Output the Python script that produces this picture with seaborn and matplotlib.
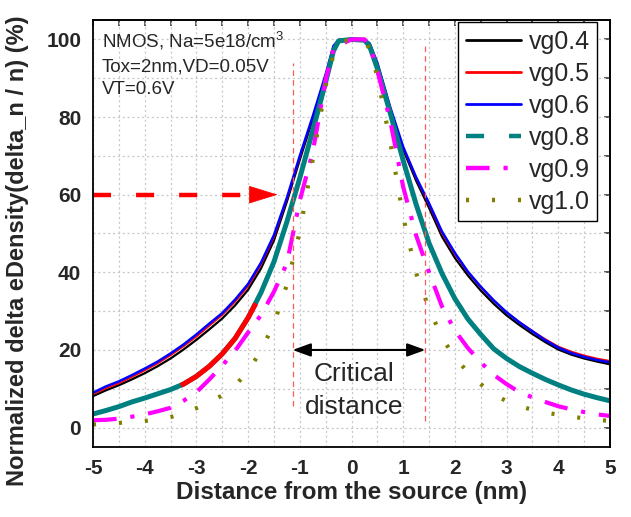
import numpy as np
import pandas as pd
import matplotlib
matplotlib.use("Agg")
import matplotlib.pyplot as plt
import seaborn as sns
from matplotlib.lines import Line2D
from matplotlib.ticker import MultipleLocator

# ---------------- data ----------------
x_pos = [-5, -4.75, -4.5, -4.25, -4, -3.75, -3.5, -3.25, -3, -2.75, -2.5, -2.25, -2, -1.75,
         -1.5, -1.25, -1, -0.75, -0.5, -0.35, -0.25, 0, 0.25, 0.35, 0.5, 0.75, 1, 1.25, 1.5,
         1.75, 2, 2.25, 2.5, 2.75, 3, 3.25, 3.5, 3.75, 4, 4.25, 4.5, 4.75, 5]

vg04 = [8.1, 9.6, 10.9, 12.4, 14.0, 15.8, 17.8, 20.1, 22.6, 25.3, 28.1, 31.5, 35.5, 41.0,
        48.2, 58.2, 69.0, 79.4, 90.3, 97.6, 99.6, 100, 99.8, 98.6, 93.5, 82.0, 71.6, 63.6, 56.6,
        49.2, 43.7, 39.2, 35.3, 31.9, 28.9, 26.4, 24.1, 22.0, 20.1, 18.8, 17.8, 17.0, 16.3]
vg05 = [8.6, 10.1, 11.4, 13.0, 14.7, 16.5, 18.6, 20.9, 23.4, 26.2, 29.0, 32.4, 36.4, 41.9,
        49.0, 58.8, 69.6, 79.9, 90.7, 98.0, 99.8, 100, 99.9, 98.8, 93.8, 82.3, 72.0, 64.2, 57.4,
        50.0, 44.6, 40.0, 36.1, 32.7, 29.7, 27.2, 24.9, 22.8, 20.9, 19.6, 18.6, 17.8, 17.2]
vg06 = [9.0, 10.6, 11.9, 13.5, 15.2, 17.0, 19.1, 21.4, 24.0, 26.8, 29.5, 33.0, 37.0, 42.5,
        49.6, 59.2, 70.0, 80.2, 91.0, 98.3, 99.9, 100, 100, 99.0, 94.0, 82.5, 72.3, 64.5, 57.8,
        50.5, 45.0, 40.2, 36.3, 32.8, 29.7, 27.1, 24.8, 22.5, 20.6, 19.2, 18.2, 17.4, 16.8]
vg08 = [3.5, 4.4, 5.4, 6.6, 7.6, 8.7, 9.8, 11.2, 13.2, 15.8, 19.0, 23.0, 28.3, 34.8,
        42.7, 53.0, 64.3, 76.5, 89.0, 97.0, 99.6, 100, 99.8, 98.3, 92.5, 81.0, 68.8, 57.5, 47.5,
        39.7, 33.2, 28.0, 24.0, 20.3, 17.8, 15.7, 14.0, 12.4, 11.0, 9.7, 8.6, 7.7, 6.9]
vg09 = [1.9, 2.0, 2.3, 2.8, 3.4, 4.2, 5.1, 6.9, 9.1, 12.4, 16.0, 19.8, 24.5, 29.0,
        35.0, 42.3, 58.5, 71.0, 89.5, 97.4, 98.5, 100, 100, 98.5, 92.0, 79.0, 62.0, 49.5, 40.0,
        31.2, 25.0, 20.5, 16.8, 13.6, 11.2, 9.1, 7.8, 6.6, 5.5, 4.7, 4.0, 3.4, 3.0]
vg10 = [0.8, 1.0, 1.2, 1.4, 1.7, 2.1, 2.7, 3.7, 5.0, 6.5, 8.3, 10.8, 14.6, 19.8,
        26.8, 36.8, 50.5, 69.0, 88.0, 96.0, 99.3, 100, 99.8, 97.5, 90.5, 73.5, 54.3, 39.8, 30.6,
        23.2, 18.0, 14.3, 11.2, 8.6, 6.8, 5.5, 4.6, 3.9, 3.3, 2.8, 2.4, 2.0, 1.7]

# short red stretch visible on top of the vg0.8 curve
seg_x = [-3.3, -3.25, -3.0, -2.75, -2.5, -2.25, -2.0, -1.85]
seg_y = [10.9, 11.2, 13.2, 15.8, 19.0, 23.0, 28.3, 32.0]

labels = ["vg0.4", "vg0.5", "vg0.6", "vg0.8", "vg0.9", "vg1.0"]
series = [vg04, vg05, vg06, vg08, vg09, vg10]

crit_left, crit_right = -1.14, 1.43
arrow_y = 60
crit_y = 20

# ---------------- style ----------------
sns.set_theme(style="white")
plt.rcParams["font.family"] = ["Liberation Sans", "DejaVu Sans"]
plt.rcParams["mathtext.default"] = "regular"
plt.rcParams["lines.scale_dashes"] = False
plt.rcParams["axes.unicode_minus"] = False

fig = plt.figure(figsize=(6.31, 5.17), dpi=100)
ax = fig.add_axes([93 / 631, 1 - 447 / 517, 517 / 631, 427 / 517])

df = pd.DataFrame({"x": np.tile(x_pos, len(labels)),
                   "y": np.concatenate(series),
                   "series": np.repeat(labels, len(x_pos))})

styles = {
    "vg0.4": dict(color="black", lw=1.6, ls="-"),
    "vg0.5": dict(color="#ff0000", lw=1.2, ls="-"),
    "vg0.6": dict(color="#0000ff", lw=1.8, ls="-"),
    "vg0.8": dict(color="#008080", lw=3.6, ls="-"),
    "vg0.9": dict(color="#ff00ff", lw=3.0, ls=(0, (17, 10, 3, 10))),
    "vg1.0": dict(color="#808000", lw=3.0, ls=(0, (2.2, 16.5))),
}

for lab in labels:
    st = styles[lab]
    sub = df[df["series"] == lab]
    sns.lineplot(data=sub, x="x", y="y", ax=ax, color=st["color"], lw=st["lw"],
                 estimator=None, sort=False, legend=False)
    ax.lines[-1].set_linestyle(st["ls"])
    ax.lines[-1].set_solid_capstyle("butt")
    ax.lines[-1].set_solid_joinstyle("round")
    if lab == "vg0.8":
        seg = pd.DataFrame({"x": seg_x, "y": seg_y})
        sns.lineplot(data=seg, x="x", y="y", ax=ax, color="#ff0000", lw=3.6,
                     estimator=None, sort=False, legend=False)
        ax.lines[-1].set_solid_capstyle("butt")

# critical distance markers
ax.plot([crit_left, crit_left], [5.5, 94], color="#ff5a5a", lw=0.9, ls=(0, (4, 3)))
ax.plot([crit_right, crit_right], [1.6, 99.2], color="#ff5a5a", lw=0.9, ls=(0, (4, 3)))
ax.annotate("", xy=(crit_left, crit_y), xytext=(crit_right, crit_y),
            arrowprops=dict(arrowstyle="<|-|>,head_length=0.55,head_width=0.2",
                            color="black", lw=1.5, mutation_scale=20,
                            shrinkA=0, shrinkB=0))
ax.text(0.05, 13.7, "Critical", fontsize=19, ha="center", va="center")
ax.text(0.05, 5.4, "distance", fontsize=19, ha="center", va="center")

# red dashed arrow at 60 %
ax.plot([-5, -1.95], [arrow_y, arrow_y], color="#ff0000", lw=3.2, ls=(0, (13, 18)),
        solid_capstyle="butt", dash_capstyle="butt")
ax.annotate("", xy=(-1.43, arrow_y), xytext=(-1.96, arrow_y),
            arrowprops=dict(arrowstyle="-|>,head_length=0.97,head_width=0.3",
                            color="#ff0000", lw=0.5, mutation_scale=20,
                            shrinkA=0, shrinkB=0))

# info text
ax.text(-4.83, 99.5, "NMOS, Na=5e18/cm$^3$", fontsize=13.5, va="center", ha="left")
ax.text(-4.83, 93.0, "Tox=2nm,VD=0.05V", fontsize=13.5, va="center", ha="left")
ax.text(-4.83, 87.0, "VT=0.6V", fontsize=13.5, va="center", ha="left")

# axes
ax.set_xlim(-5, 5)
ax.set_ylim(-5, 105)
ax.xaxis.set_major_locator(MultipleLocator(1))
ax.xaxis.set_minor_locator(MultipleLocator(0.5))
ax.yaxis.set_major_locator(MultipleLocator(20))
ax.yaxis.set_minor_locator(MultipleLocator(10))
ax.set_yticks([0, 20, 40, 60, 80, 100])
ax.grid(True, which="both", color="#c8c8c8", lw=0.9, ls=(0, (1.5, 2)))
ax.set_axisbelow(True)
ax.tick_params(which="major", direction="out", length=5.5, width=1.1, labelsize=15, pad=3)
ax.tick_params(which="minor", direction="out", length=3, width=1.1)
for lbl in ax.get_xticklabels() + ax.get_yticklabels():
    lbl.set_fontweight("bold")
for sp in ax.spines.values():
    sp.set_visible(True)
    sp.set_color("black")
    sp.set_linewidth(1.3)

top = ax.secondary_xaxis("top")
top.xaxis.set_major_locator(MultipleLocator(0.5))
top.tick_params(direction="in", length=4.5, width=1.1, labeltop=False)
right = ax.secondary_yaxis("right")
right.yaxis.set_major_locator(MultipleLocator(10))
right.tick_params(direction="in", length=4.5, width=1.1, labelright=False)

ax.set_xlabel("Distance from the source (nm)", fontsize=17.5, fontweight="bold", labelpad=2)
ax.set_ylabel("Normalized delta eDensity(delta_n / n) (%)", fontsize=17,
              fontweight="bold")
ax.yaxis.set_label_coords(-0.124, 0.46)

# legend
handles = [
    Line2D([], [], color="black", lw=2.0),
    Line2D([], [], color="#ff0000", lw=2.0),
    Line2D([], [], color="#0000ff", lw=2.0),
    Line2D([], [], color="#008080", lw=3.2, ls=(0, (13, 18))),
    Line2D([], [], color="#ff00ff", lw=3.2, ls=(0, (17, 10, 3, 10))),
    Line2D([], [], color="#808000", lw=3.2, ls=(0, (2.2, 16.5))),
]
leg = ax.legend(handles, labels, loc="upper right", bbox_to_anchor=(0.975, 0.995),
                fontsize=18, frameon=True, fancybox=False, framealpha=1,
                edgecolor="black", handlelength=2.2, handletextpad=0.3,
                labelspacing=0.32, borderpad=0.3, borderaxespad=0)
leg.get_frame().set_linewidth(1.0)

fig.savefig("out.png", dpi=100)
